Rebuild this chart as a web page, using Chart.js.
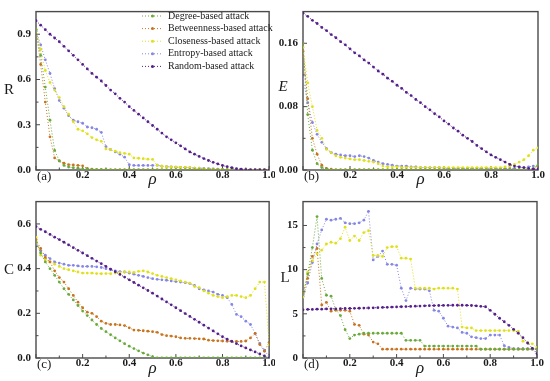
<!DOCTYPE html>
<html>
<head>
<meta charset="utf-8">
<script src="https://cdn.jsdelivr.net/npm/chart.js@4.4.0/dist/chart.umd.min.js"></script>
<style>
  html, body { margin: 0; padding: 0; background: #fff; }
  #wrap { position: relative; width: 550px; height: 381px; overflow: hidden; }
  canvas { position: absolute; }
</style>
</head>
<body>
<div id="wrap">
  <canvas id="chartA" width="275" height="190" style="left:0;top:0"></canvas>
  <canvas id="chartB" width="275" height="190" style="left:275px;top:0"></canvas>
  <canvas id="chartC" width="275" height="191" style="left:0;top:190px"></canvas>
  <canvas id="chartD" width="275" height="191" style="left:275px;top:190px"></canvas>
</div>
<script>
// fraction of removed nodes
const rho = [0, 0.02, 0.04, 0.06, 0.08, 0.1, 0.12, 0.14, 0.16, 0.18,
  0.2, 0.22, 0.24, 0.26, 0.28, 0.3, 0.32, 0.34, 0.36, 0.38,
  0.4, 0.42, 0.44, 0.46, 0.48, 0.5, 0.52, 0.54, 0.56, 0.58,
  0.6, 0.62, 0.64, 0.66, 0.68, 0.7, 0.72, 0.74, 0.76, 0.78,
  0.8, 0.82, 0.84, 0.86, 0.88, 0.9, 0.92, 0.94, 0.96, 0.98, 1.0];

const seriesNames = ['Degree-based attack', 'Betweenness-based attack', 'Closeness-based attack',
  'Entropy-based attack', 'Random-based attack'];

const xTicks = [0.2, 0.4, 0.6, 0.8, 1.0];
const yTicksA = [0, 0.3, 0.6, 0.9];
const yTicksB = [0, 0.08, 0.16];
const yTicksC = [0, 0.2, 0.4, 0.6];
const yTicksD = [0, 5, 10, 15];

// (a) R
const degA = [0.93, 0.76, 0.55, 0.33, 0.13, 0.06, 0.03, 0.02, 0.015, 0.012,
  0.008, 0.005, 0.004, 0.003, 0.002, 0.002, 0.001, 0.001, 0.001, 0.001,
  0, 0, 0, 0, 0, 0, 0, 0, 0, 0,
  0, 0, 0, 0, 0, 0, 0, 0, 0, 0,
  0, 0, 0, 0, 0, 0, 0, 0, 0, 0, 0];
const betA = [0.93, 0.70, 0.45, 0.22, 0.08, 0.06, 0.045, 0.035, 0.033, 0.03,
  0.028, 0.01, 0.005, 0.003, 0.002, 0.001, 0.001, 0.001, 0, 0,
  0, 0, 0, 0, 0, 0, 0, 0, 0, 0,
  0, 0, 0, 0, 0, 0, 0, 0, 0, 0,
  0, 0, 0, 0, 0, 0, 0, 0, 0, 0, 0];
const cloA = [0.93, 0.80, 0.66, 0.58, 0.53, 0.48, 0.42, 0.37, 0.32, 0.27,
  0.26, 0.24, 0.215, 0.20, 0.19, 0.14, 0.135, 0.125, 0.115, 0.11,
  0.105, 0.08, 0.078, 0.075, 0.072, 0.07, 0.03, 0.025, 0.022, 0.02,
  0.019, 0.018, 0.017, 0.016, 0.012, 0.01, 0.008, 0.006, 0.005, 0.004,
  0.003, 0.002, 0.001, 0, 0, 0, 0, 0, 0, 0, 0];
const entA = [0.92, 0.83, 0.73, 0.64, 0.54, 0.46, 0.41, 0.36, 0.33, 0.32,
  0.31, 0.285, 0.28, 0.27, 0.25, 0.155, 0.135, 0.12, 0.105, 0.085,
  0.035, 0.03, 0.03, 0.03, 0.03, 0.03, 0.032, 0.025, 0.022, 0.02,
  0.019, 0.018, 0.017, 0.015, 0.013, 0.012, 0.011, 0.009, 0.007, 0.005,
  0.004, 0.003, 0.002, 0.001, 0.001, 0, 0, 0, 0, 0, 0];
const ranA = [0.99, 0.96, 0.93, 0.90, 0.875, 0.85, 0.82, 0.79, 0.76, 0.73,
  0.70, 0.67, 0.64, 0.615, 0.59, 0.56, 0.53, 0.505, 0.475, 0.45,
  0.42, 0.395, 0.37, 0.345, 0.32, 0.295, 0.27, 0.245, 0.22, 0.20,
  0.18, 0.16, 0.14, 0.12, 0.105, 0.09, 0.076, 0.063, 0.051, 0.04,
  0.03, 0.022, 0.015, 0.009, 0.005, 0.003, 0.001, 0, 0, 0, 0];

// (b) E
const degB = [0.16, 0.07, 0.025, 0.008, 0.003, 0.001, 0, 0, 0, 0,
  0, 0, 0, 0, 0, 0, 0, 0, 0, 0,
  0, 0, 0, 0, 0, 0, 0, 0, 0, 0,
  0, 0, 0, 0, 0, 0, 0, 0, 0, 0,
  0, 0, 0, 0, 0, 0, 0, 0, 0, 0.002, 0.006];
const betB = [0.15, 0.09, 0.04, 0.02, 0.006, 0.002, 0.001, 0, 0, 0,
  0, 0, 0, 0, 0, 0, 0, 0, 0, 0,
  0, 0, 0, 0, 0, 0, 0, 0, 0, 0,
  0, 0, 0, 0, 0, 0, 0, 0, 0, 0,
  0, 0, 0, 0, 0, 0, 0, 0, 0, 0.001, 0.004];
const cloB = [0.155, 0.11, 0.08, 0.05, 0.04, 0.026, 0.022, 0.018, 0.016, 0.015,
  0.014, 0.013, 0.013, 0.012, 0.011, 0.01, 0.008, 0.005, 0.004, 0.004,
  0.004, 0.003, 0.003, 0.003, 0.003, 0.003, 0.003, 0.003, 0.003, 0.003,
  0.003, 0.003, 0.003, 0.003, 0.003, 0.003, 0.003, 0.003, 0.003, 0.003,
  0.003, 0.003, 0.003, 0.004, 0.005, 0.007, 0.01, 0.013, 0.018, 0.025, 0.028];
const entB = [0.115, 0.085, 0.06, 0.045, 0.035, 0.027, 0.022, 0.02, 0.019, 0.018,
  0.018, 0.017, 0.018, 0.017, 0.015, 0.012, 0.01, 0.008, 0.007, 0.006,
  0.005, 0.005, 0.005, 0.004, 0.004, 0.003, 0.003, 0.003, 0.003, 0.003,
  0.002, 0.002, 0.002, 0.002, 0.002, 0.002, 0.002, 0.002, 0.002, 0.002,
  0.002, 0.002, 0.002, 0.002, 0.002, 0.002, 0.003, 0.003, 0.004, 0.005, 0.005];
const ranB = [0.198, 0.194, 0.189, 0.185, 0.180, 0.176, 0.171, 0.167, 0.162, 0.158,
  0.153, 0.148, 0.144, 0.139, 0.135, 0.130, 0.125, 0.121, 0.116, 0.112,
  0.107, 0.103, 0.098, 0.094, 0.089, 0.085, 0.080, 0.076, 0.071, 0.067,
  0.062, 0.058, 0.053, 0.049, 0.044, 0.040, 0.036, 0.031, 0.027, 0.023,
  0.019, 0.016, 0.013, 0.010, 0.007, 0.005, 0.004, 0.003, 0.002, 0.001, 0.001];

// (c) C
const degC = [0.52, 0.47, 0.43, 0.40, 0.37, 0.34, 0.31, 0.285, 0.26, 0.235,
  0.21, 0.19, 0.17, 0.15, 0.132, 0.118, 0.104, 0.09, 0.077, 0.064,
  0.053, 0.042, 0.032, 0.022, 0.014, 0.006, 0.001, 0, 0, 0,
  0, 0, 0, 0, 0, 0, 0, 0, 0, 0,
  0, 0, 0, 0, 0, 0, 0, 0, 0, 0, 0];
const betC = [0.53, 0.49, 0.45, 0.43, 0.39, 0.36, 0.34, 0.31, 0.28, 0.25,
  0.225, 0.205, 0.20, 0.185, 0.165, 0.155, 0.15, 0.15, 0.148, 0.145,
  0.135, 0.125, 0.124, 0.122, 0.12, 0.118, 0.115, 0.105, 0.10, 0.098,
  0.095, 0.09, 0.088, 0.088, 0.087, 0.086, 0.085, 0.08, 0.078, 0.077,
  0.076, 0.075, 0.075, 0.074, 0.074, 0.076, 0.09, 0.11, 0.06, 0.03, 0.07];
const cloC = [0.54, 0.46, 0.44, 0.43, 0.42, 0.41, 0.40, 0.395, 0.39, 0.385,
  0.38, 0.38, 0.38, 0.378, 0.377, 0.378, 0.377, 0.38, 0.382, 0.385,
  0.385, 0.383, 0.388, 0.39, 0.385, 0.378, 0.37, 0.365, 0.36, 0.355,
  0.35, 0.345, 0.34, 0.335, 0.32, 0.315, 0.30, 0.29, 0.28, 0.275,
  0.27, 0.275, 0.28, 0.28, 0.275, 0.27, 0.28, 0.31, 0.34, 0.34, 0.06];
const entC = [0.51, 0.48, 0.46, 0.445, 0.43, 0.425, 0.42, 0.415, 0.415, 0.412,
  0.41, 0.41, 0.41, 0.408, 0.405, 0.40, 0.395, 0.39, 0.387, 0.385,
  0.38, 0.375, 0.37, 0.365, 0.36, 0.355, 0.352, 0.35, 0.348, 0.345,
  0.342, 0.34, 0.337, 0.333, 0.325, 0.31, 0.305, 0.30, 0.295, 0.285,
  0.28, 0.27, 0.24, 0.195, 0.185, 0.165, 0.15, 0.11, 0.065, 0.035, 0.005];
const ranC = [0.588, 0.576, 0.565, 0.553, 0.541, 0.53, 0.518, 0.506, 0.494, 0.482,
  0.47, 0.458, 0.446, 0.434, 0.422, 0.41, 0.398, 0.386, 0.374, 0.362,
  0.35, 0.338, 0.326, 0.314, 0.302, 0.29, 0.277, 0.264, 0.251, 0.238,
  0.225, 0.212, 0.199, 0.186, 0.173, 0.16, 0.147, 0.134, 0.121, 0.108,
  0.095, 0.084, 0.074, 0.064, 0.054, 0.045, 0.036, 0.027, 0.018, 0.009, 0];

// (d) L
const degD = [7.2, 9.5, 12.5, 16.0, 9.0, 7.1, 7.0, 5.5, 4.8, 3.2,
  2.2, 2.6, 2.7, 2.8, 2.8, 2.8, 2.8, 2.8, 2.8, 2.8,
  2.8, 2.8, 2.0, 2.0, 2.0, 2.0, 1.35, 1.35, 1.35, 1.35,
  1.35, 1.35, 1.35, 1.35, 1.35, 1.35, 1.35, 1.35, 1.0, 1.0,
  1.0, 1.0, 1.0, 1.0, 1.0, 1.0, 1.0, 1.0, 1.0, 1.0, 1.0];
const betD = [7.3, 9.0, 11.5, 12.4, 6.0, 6.3, 5.3, 5.4, 5.4, 5.4,
  5.3, 3.8, 3.7, 2.7, 2.6, 1.8, 1.6, 1.0, 1.0, 1.0,
  1.0, 1.0, 1.0, 1.0, 1.0, 1.0, 1.0, 1.0, 1.0, 1.0,
  1.0, 1.0, 1.0, 1.0, 1.0, 1.0, 1.0, 1.0, 1.0, 1.0,
  1.0, 1.0, 1.0, 1.0, 1.0, 1.0, 1.0, 1.0, 1.0, 1.0, 1.0];
const cloD = [6.9, 9.7, 11.0, 11.8, 12.2, 12.9, 13.1, 13.0, 13.5, 14.8,
  13.3, 13.8, 13.3, 14.2, 14.4, 11.6, 11.6, 11.5, 12.5, 12.6,
  12.6, 11.3, 11.3, 11.2, 7.9, 7.9, 7.9, 7.9, 7.8, 7.9,
  7.9, 7.9, 7.9, 7.8, 3.5, 3.4, 3.4, 3.1, 3.1, 3.1,
  3.1, 3.1, 3.1, 3.1, 3.1, 3.1, 3.0, 1.9, 1.7, 1.6, 1.2];
const entD = [7.0, 8.5, 10.8, 12.9, 14.5, 15.7, 15.6, 15.7, 15.8, 15.3,
  15.2, 15.2, 15.3, 15.6, 16.6, 11.1, 11.5, 12.1, 10.6, 10.6,
  10.5, 7.9, 6.5, 7.9, 7.8, 7.8, 7.8, 7.6, 5.4, 5.3,
  4.5, 3.6, 3.5, 3.4, 2.9, 2.8, 2.4, 2.3, 2.2, 2.2,
  2.6, 2.6, 2.6, 1.4, 1.2, 1.05, 1.05, 1.05, 1.05, 1.05, 1.0];
const ranD = [5.45, 5.5, 5.5, 5.52, 5.53, 5.55, 5.56, 5.57, 5.58, 5.6,
  5.6, 5.62, 5.63, 5.65, 5.66, 5.68, 5.7, 5.72, 5.74, 5.76,
  5.78, 5.8, 5.82, 5.84, 5.86, 5.88, 5.9, 5.92, 5.93, 5.94,
  5.95, 5.96, 5.97, 5.97, 5.97, 5.96, 5.94, 5.9, 5.85, 5.8,
  5.4, 4.95, 4.5, 4.1, 3.7, 3.25, 2.8, 2.3, 1.7, 1.1, 0.5];

const colors = ['#6aaa3c', '#c8741e', '#e0e01a', '#8686e6', '#55208c'];
const serif = "'Liberation Serif', 'Times New Roman', serif";
const ink = '#1a1a1a';

function buildSets(cols) {
  return cols.map((vals, k) => ({
    label: seriesNames[k],
    data: vals.map((v, i) => ({ x: rho[i], y: v })),
    borderColor: colors[k],
    backgroundColor: colors[k],
    borderWidth: 1,
    borderDash: [1, 2],
    pointRadius: 1.4,
    pointBorderWidth: 0,
    pointBackgroundColor: colors[k],
    tension: 0,
    order: k === 4 ? -1 : k
  }));
}

// frame, inward ticks, panel letter, y title, legend
const deco = {
  id: 'deco',
  beforeDatasetsDraw(chart, args, o) {
    const { ctx, chartArea: a, scales: { x, y } } = chart;
    ctx.save();
    ctx.strokeStyle = '#4a4a4a';
    ctx.lineWidth = 1.4;
    ctx.strokeRect(a.left, a.top, a.right - a.left, a.bottom - a.top);
    ctx.lineWidth = 1;
    ctx.beginPath();
    const xs = [x.min, ...xTicks];
    for (let i = 0; i < xs.length; i++) {
      const px = x.getPixelForValue(xs[i]);
      ctx.moveTo(px, a.bottom); ctx.lineTo(px, a.bottom - 4);
      if (i > 0) {
        const pm = x.getPixelForValue((xs[i] + xs[i - 1]) / 2);
        ctx.moveTo(pm, a.bottom); ctx.lineTo(pm, a.bottom - 2.5);
      }
    }
    const ys = o.yTicks;
    for (let i = 0; i < ys.length; i++) {
      const py = y.getPixelForValue(ys[i]);
      ctx.moveTo(a.left, py); ctx.lineTo(a.left + 4, py);
      const step = i > 0 ? ys[i] - ys[i - 1] : ys[1] - ys[0];
      const mid = ys[i] + step / 2;
      if (mid < y.max - step * 0.1) {
        const pm = y.getPixelForValue(mid);
        ctx.moveTo(a.left, pm); ctx.lineTo(a.left + 2.5, pm);
      }
    }
    ctx.stroke();
    ctx.restore();
  },
  afterDraw(chart, args, o) {
    const { ctx, chartArea: a } = chart;
    ctx.save();
    ctx.fillStyle = ink;
    ctx.textBaseline = 'middle';
    ctx.textAlign = 'left';
    ctx.font = '13px ' + serif;
    ctx.fillText(o.letter, a.left + 1, a.bottom + o.letterDy);
    ctx.textAlign = 'center';
    ctx.font = (o.italic ? 'italic ' : '') + '15px ' + serif;
    ctx.fillText(o.yTitle, o.yTitleX, o.yTitleY);
    if (o.legend) {
      ctx.font = '10px ' + serif;
      ctx.textAlign = 'left';
      seriesNames.forEach((name, k) => {
        const ly = 16 + k * 12.6;
        ctx.strokeStyle = colors[k];
        ctx.lineWidth = 1;
        ctx.setLineDash([1, 2]);
        ctx.beginPath();
        ctx.moveTo(142, ly); ctx.lineTo(163, ly);
        ctx.stroke();
        ctx.setLineDash([]);
        ctx.fillStyle = colors[k];
        ctx.beginPath();
        ctx.arc(152.5, ly, 1.5, 0, Math.PI * 2);
        ctx.fill();
        ctx.fillStyle = ink;
        ctx.fillText(name, 168, ly);
      });
    }
    ctx.restore();
  }
};

function makeChart(id, cols, p) {
  return new Chart(document.getElementById(id), {
    type: 'line',
    data: { datasets: buildSets(cols) },
    options: {
      responsive: false,
      animation: false,
      layout: { padding: p.pad },
      plugins: {
        legend: { display: false },
        tooltip: { enabled: false },
        deco: p.deco
      },
      scales: {
        x: {
          type: 'linear', min: 0, max: 1,
          grid: { display: false, drawTicks: false },
          border: { display: false },
          afterBuildTicks: s => { s.ticks = xTicks.map(v => ({ value: v })); },
          afterFit: s => { s.height = p.xh; },
          ticks: { padding: -1, color: ink, font: { family: serif, size: 11, weight: 'bold' },
            callback: v => v.toFixed(1), maxRotation: 0, autoSkip: false },
          title: { display: true, text: 'ρ', color: ink, padding: { top: 0, bottom: p.rhoPad },
            font: { family: serif, style: 'italic', size: 17 } }
        },
        y: {
          type: 'linear', min: 0, max: p.ymax,
          grid: { display: false, drawTicks: false },
          border: { display: false },
          afterBuildTicks: s => { s.ticks = p.deco.yTicks.map(v => ({ value: v })); },
          afterFit: s => { s.width = p.yw; },
          ticks: { padding: 5, color: ink, font: { family: serif, size: 11, weight: 'bold' },
            callback: v => v.toFixed(p.dec), autoSkip: false }
        }
      }
    },
    plugins: [deco]
  });
}

makeChart('chartA', [degA, betA, cloA, entA, ranA], {
  pad: { top: 9, right: 5, bottom: 0, left: 0 }, xh: 20, yw: 36, ymax: 1.05, dec: 1, rhoPad: 0,
  deco: { yTicks: yTicksA, letter: '(a)', letterDy: 6.5, yTitle: 'R', italic: false, yTitleX: 9, yTitleY: 90, legend: true }
});
makeChart('chartB', [degB, betB, cloB, entB, ranB], {
  pad: { top: 9, right: 12, bottom: 0, left: 0 }, xh: 20, yw: 28, ymax: 0.2, dec: 2, rhoPad: 0,
  deco: { yTicks: yTicksB, letter: '(b)', letterDy: 6.5, yTitle: 'E', italic: true, yTitleX: 8, yTitleY: 87, legend: false }
});
makeChart('chartC', [degC, betC, cloC, entC, ranC], {
  pad: { top: 8, right: 5, bottom: 0, left: 0 }, xh: 23, yw: 36, ymax: 0.7, dec: 1, rhoPad: 2,
  deco: { yTicks: yTicksC, letter: '(c)', letterDy: 7, yTitle: 'C', italic: false, yTitleX: 9, yTitleY: 80, legend: false }
});
makeChart('chartD', [degD, betD, cloD, entD, ranD], {
  pad: { top: 1, right: 13, bottom: 0, left: 0 }, xh: 23, yw: 28, ymax: 17.7, dec: 0, rhoPad: 2,
  deco: { yTicks: yTicksD, letter: '(d)', letterDy: 7, yTitle: 'L', italic: false, yTitleX: 10, yTitleY: 88, legend: false }
});
</script>
</body>
</html>
